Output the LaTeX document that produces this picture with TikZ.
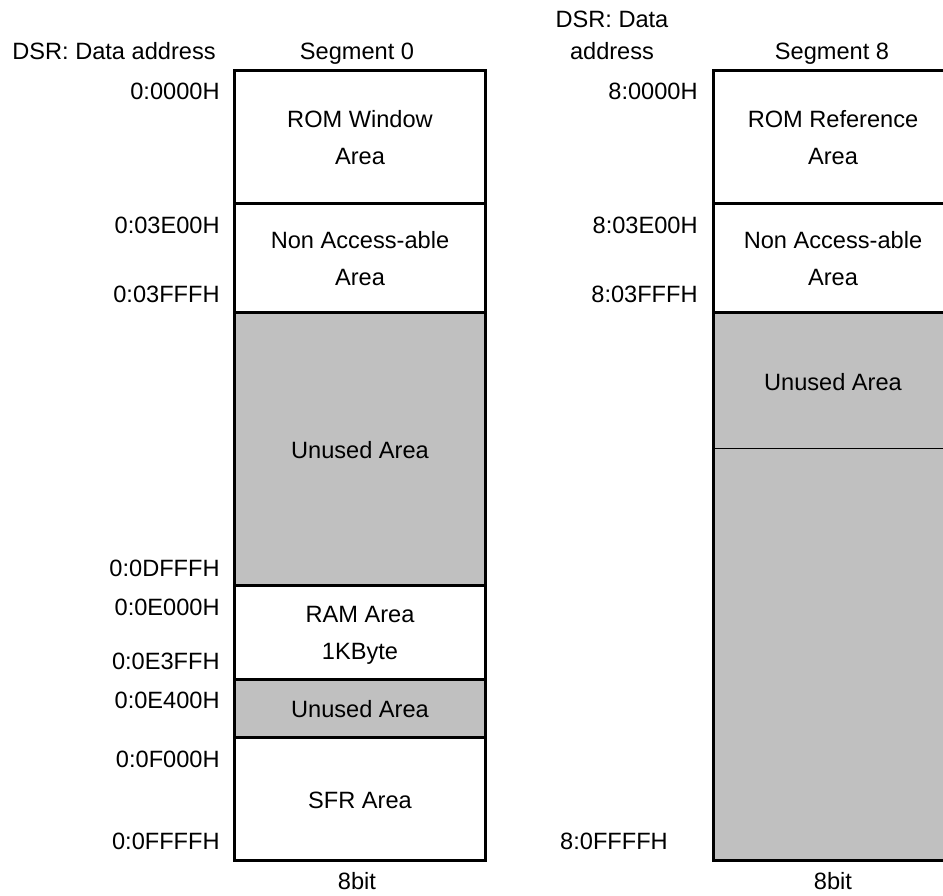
\documentclass[tikz,border=0pt]{standalone}
\usepackage{fontspec}
\setmainfont{Liberation Sans}
\usepackage{xcolor}
\usetikzlibrary{positioning}
\definecolor{unusedgray}{RGB}{192,192,192}

\begin{document}
\begin{tikzpicture}[x=0.5pt,y=-0.5pt,font=\fontsize{11.8}{18.5}\selectfont,
	memline/.style={line width=1.5pt},
	thinline/.style={line width=0.5pt},
	addr/.style={anchor=base east,inner sep=0pt},
	title/.style={anchor=base,inner sep=0pt},
	areatext/.style={align=center,inner sep=0pt}]
	\useasboundingbox (0,0) rectangle (943,895);
	\clip (0,0) rectangle (943,895);

	% segment 0
	\fill[unusedgray] (234,312) rectangle (485,585);
	\fill[unusedgray] (234,679) rectangle (485,737);
	\draw[memline] (234,70) rectangle (485,860);
		\draw[memline] (234,203) to (485,203);
		\draw[memline] (234,312) to (485,312);
		\draw[memline] (234,585) to (485,585);
		\draw[memline] (234,679) to (485,679);
		\draw[memline] (234,737) to (485,737);

	\node[title] (dsr0) at (114,59) {DSR: Data address};
	\node[title] (seg0) at (357,59) {Segment 0};
	\node[title] (bit0) at (357,889) {8bit};

	\node[areatext] (rom0) at (360,138) {ROM Window\\Area};
	\node[areatext] (nacc0) at (360,259) {Non Access-able\\Area};
	\node[areatext] (unused0) at (360,450) {Unused Area};
	\node[areatext] (ram0) at (360,635) {RAM Area\\1KByte};
	\node[areatext] (unused1) at (360,709) {Unused Area};
	\node[areatext] (sfr0) at (360,800) {SFR Area};

	\node[addr] (a0000) at (220,99) {0:0000H};
	\node[addr] (a3e00) at (220,233) {0:03E00H};
	\node[addr] (a3fff) at (220,302) {0:03FFFH};
	\node[addr] (adfff) at (220,576) {0:0DFFFH};
	\node[addr] (ae000) at (220,615) {0:0E000H};
	\node[addr] (ae3ff) at (220,669) {0:0E3FFH};
	\node[addr] (ae400) at (220,708) {0:0E400H};
	\node[addr] (af000) at (220,767) {0:0F000H};
	\node[addr] (affff) at (220,849) {0:0FFFFH};

	% segment 8
	\fill[unusedgray] (713,312) rectangle (960,860);
	\draw[memline] (713,70) rectangle (960,860);
		\draw[memline] (713,203) to (960,203);
		\draw[memline] (713,312) to (960,312);
		\draw[thinline] (713,448) to (960,448);

	\node[title] (dsr8a) at (612,27) {DSR: Data};
	\node[title] (dsr8b) at (612,59) {address};
	\node[title] (seg8) at (832,59) {Segment 8};
	\node[title] (bit8) at (833,889) {8bit};

	\node[areatext] (rom8) at (833,138) {ROM Reference\\Area};
	\node[areatext] (nacc8) at (833,259) {Non Access-able\\Area};
	\node[areatext] (unused8) at (833,382) {Unused Area};

	\node[addr] (b0000) at (698,99) {8:0000H};
	\node[addr] (b3e00) at (698,233) {8:03E00H};
	\node[addr] (b3fff) at (698,302) {8:03FFFH};
	\node[title] (bffff) at (614,849) {8:0FFFFH};
\end{tikzpicture}
\end{document}
